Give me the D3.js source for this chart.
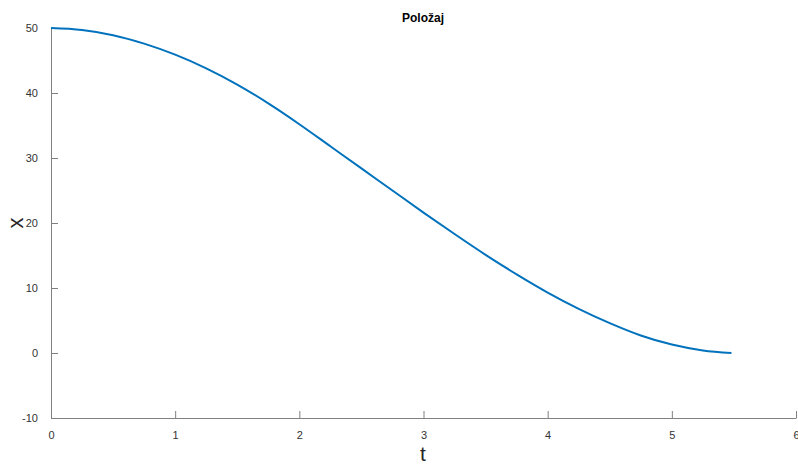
<!DOCTYPE html>
<html><head><meta charset="utf-8">
<script src="https://cdn.jsdelivr.net/npm/d3@7"></script>
<style>body{margin:0;background:#fff}svg{display:block}</style>
</head><body><svg id="c" width="798" height="466"></svg>
<script>
const tValues = [0, 0.25, 0.5, 0.75, 1.0, 1.25, 1.5, 1.75, 2.0, 2.25, 2.5, 2.75, 3.0, 3.25, 3.5, 3.75, 4.0, 4.25, 4.5, 4.75, 5.0, 5.25, 5.48];
const xValues = [50, 49.7, 48.9, 47.6, 45.9, 43.8, 41.3, 38.4, 35.2, 31.8, 28.4, 25.0, 21.6, 18.3, 15.1, 12.1, 9.3, 6.8, 4.6, 2.7, 1.3, 0.4, 0.0];
const xTicks = [0, 1, 2, 3, 4, 5, 6];
const yTicks = [-10, 0, 10, 20, 30, 40, 50];
const title = "Položaj";
const xLabel = "t";
const yLabel = "x";

const svg = d3.select("#c");
const x = d3.scaleLinear().domain([0, 6]).range([51, 796]);
const y = d3.scaleLinear().domain([-10, 50]).range([418, 28]);
const axisColor = "#808080", textColor = "#333333";
const font = "Arial, 'Liberation Sans', sans-serif";

const gx = svg.append("g").attr("transform", "translate(0,418)")
  .call(d3.axisBottom(x).tickValues(xTicks).tickSizeInner(-7).tickSizeOuter(0).tickPadding(13).tickFormat(d => String(d)));
const gy = svg.append("g").attr("transform", "translate(51,0)")
  .call(d3.axisLeft(y).tickValues(yTicks).tickSizeInner(-7).tickSizeOuter(0).tickPadding(13).tickFormat(d => String(d)));
[gx, gy].forEach(g => {
  g.select(".domain").attr("stroke", axisColor).attr("stroke-width", 1);
  g.selectAll(".tick line").attr("stroke", axisColor);
  g.selectAll(".tick text").attr("fill", textColor).style("font-family", font).style("font-size", "11px");
});
gx.selectAll(".tick text").attr("dy", "0.71em");

const line = d3.line().x((d, i) => x(tValues[i])).y(d => y(d)).curve(d3.curveMonotoneX);
svg.append("path").datum(xValues).attr("d", line)
  .attr("fill", "none").attr("stroke", "#0072BD").attr("stroke-width", 2);

svg.append("text").attr("x", 423).attr("y", 22).attr("text-anchor", "middle")
  .style("font-family", font).style("font-size", "12px").style("font-weight", "bold")
  .attr("fill", "#000").text(title);
svg.append("text").attr("x", 423).attr("y", 461).attr("text-anchor", "middle")
  .style("font-family", font).style("font-size", "21px")
  .attr("fill", "#262626").text(xLabel);
svg.append("text").attr("transform", "translate(23,223) rotate(-90)").attr("text-anchor", "middle")
  .style("font-family", font).style("font-size", "22px")
  .attr("fill", "#262626").text(yLabel);
</script></body></html>
